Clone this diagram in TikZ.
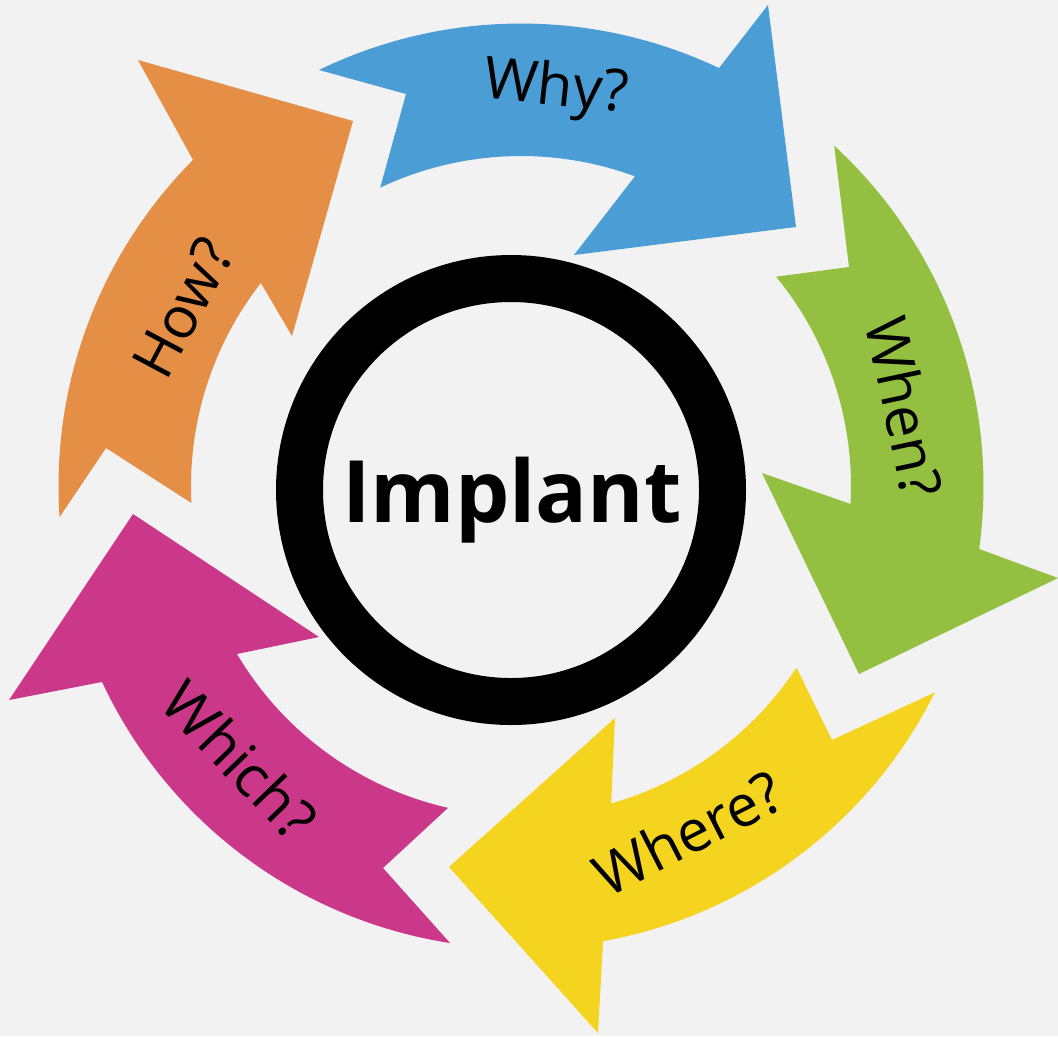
\documentclass[tikz,border=0pt]{standalone}
\usepackage{fontspec}
\setmainfont{Open Sans}
\usetikzlibrary{calc}
\definecolor{bgc}{HTML}{F2F2F2}
\definecolor{cblue}{HTML}{4A9DD5}
\definecolor{cgreen}{HTML}{93C040}
\definecolor{cyellow}{HTML}{F4D41E}
\definecolor{cmagenta}{HTML}{CB388A}
\definecolor{corange}{HTML}{E58E45}
\tikzset{
  arrowshape/.style={fill=#1, draw=none},
  lbl/.style={font=\fontsize{33}{40}\selectfont, text=black, inner sep=0pt},
  centerlbl/.style={font=\bfseries\fontsize{49}{59}\selectfont, text=black, inner sep=0pt},
  ring/.style={draw=black, line width=0.94cm}
}
\def\myRo{462.5}
\def\myRi{330}
\begin{document}
\begin{tikzpicture}[x=0.02cm,y=-0.02cm]
\fill[bgc] (0,0) rectangle (1058,1036);
\useasboundingbox (0,0) rectangle (1058,1036);
\coordinate (C) at (521,486);
% Blue
\fill[arrowshape=cblue] ($(C)+(-115.9:\myRo)$) arc[start angle=-115.9, end angle=-64.65, radius=\myRo]
  -- (768,5) -- (796,227) -- (574,255)
  -- ($(C)+(-69.8:\myRi)$) arc[start angle=-69.8, end angle=-115.25, radius=\myRi]
  -- (406,94) -- cycle;
% Green
\fill[arrowshape=cgreen] ($(C)+(-47.37:\myRo)$) arc[start angle=-47.37, end angle=7.83, radius=\myRo]
  -- (1058,578) -- (859,674) -- (762,473)
  -- ($(C)+(3.12:\myRi)$) arc[start angle=3.12, end angle=-39.37, radius=\myRi]
  -- (849,267) -- cycle;
% Yellow
\fill[arrowshape=cyellow] ($(C)+(26.5:\myRo)$) arc[start angle=26.5, end angle=79.78, radius=\myRo]
  -- (598,1033) -- (449,867) -- (615,718)
  -- ($(C)+(74.15:\myRi)$) arc[start angle=74.15, end angle=33.4, radius=\myRi]
  -- (832,740) -- cycle;
% Magenta
\fill[arrowshape=cmagenta] ($(C)+(98.83:\myRo)$) arc[start angle=98.83, end angle=154.93, radius=\myRo]
  -- (9,700) -- (133,514) -- (319,637)
  -- ($(C)+(149.4:\myRi)$) arc[start angle=149.4, end angle=102.77, radius=\myRi]
  -- (383,868) -- cycle;
% Orange
\fill[arrowshape=corange] ($(C)+(176.15:\myRo)$) arc[start angle=176.15, end angle=224.83, radius=\myRo]
  -- (138,60) -- (353,121) -- (292,336)
  -- ($(C)+(217.98:\myRi)$) arc[start angle=217.98, end angle=177.05, radius=\myRi]
  -- (106,448) -- cycle;
% Centre ring and text
\draw[ring] (511,490) circle[radius=211.5];
\node[centerlbl, anchor=base] (implant) at (512,522) {Implant};
% Labels
\node[lbl, rotate=-6] (why) at (556,90) {Why?};
\node[lbl, rotate=-78] (when) at (905,407) {When?};
\node[lbl, rotate=27] (where) at (688,833) {Where?};
\node[lbl, rotate=-46] (which) at (240,760) {Which?};
\node[lbl, rotate=62] (how) at (183,308) {How?};
\end{tikzpicture}
\end{document}
